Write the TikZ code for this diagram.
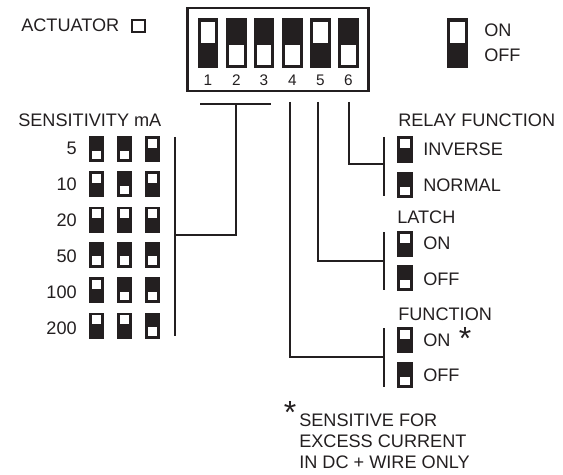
\documentclass[tikz,border=0pt]{standalone}
\usepackage{fontspec}
\setmainfont{Liberation Sans}
\usepackage{xcolor}
\usetikzlibrary{positioning}
\definecolor{ink}{HTML}{231F20}
\tikzset{
  wire/.style={draw=ink,line width=2.1pt},
  lab/.style={anchor=west,inner sep=0pt,text=ink,font=\fontsize{13.6}{16}\selectfont},
  num/.style={anchor=east,inner sep=0pt,text=ink,font=\fontsize{13.6}{16}\selectfont},
  digit/.style={inner sep=0pt,text=ink,font=\fontsize{11.5}{14}\selectfont},
  star/.style={inner sep=0pt,text=ink,font=\fontsize{24}{24}\selectfont},
  bigbody/.style={fill=ink,inner sep=0pt,minimum width=15.4pt,minimum height=37.5pt},
  bigon/.style={bigbody,path picture={\fill[white] ([xshift=-5.3pt,yshift=-3pt]path picture bounding box.north) rectangle ([xshift=5.3pt,yshift=-18.8pt]path picture bounding box.north);}},
  bigoff/.style={bigbody,path picture={\fill[white] ([xshift=-5.3pt,yshift=2pt]path picture bounding box.south) rectangle ([xshift=5.3pt,yshift=17.5pt]path picture bounding box.south);}},
  smallbody/.style={fill=ink,inner sep=0pt,minimum width=11.4pt,minimum height=19.5pt},
  smallon/.style={smallbody,path picture={\fill[white] ([xshift=-3.7pt,yshift=-2.2pt]path picture bounding box.north) rectangle ([xshift=3.7pt,yshift=-8.8pt]path picture bounding box.north);}},
  smalloff/.style={smallbody,path picture={\fill[white] ([xshift=-3.7pt,yshift=2pt]path picture bounding box.south) rectangle ([xshift=3.7pt,yshift=8.6pt]path picture bounding box.south);}}
}
\begin{document}
\begin{tikzpicture}[x=0.75pt,y=-0.75pt]
\useasboundingbox (0,0) rectangle (563,474);
% top row
\node[lab] (actlabel) at (21,25) {ACTUATOR};
\node[draw=ink,line width=1.6pt,inner sep=0pt,minimum width=9.4pt,minimum height=9.4pt] (actbox) at (138.5,26) {};
\node[draw=ink,line width=2.1pt,inner sep=0pt,minimum width=135.75pt,minimum height=62.25pt] (dipbox) at (278,49.5) {};
\node[bigon] (dip1) at (208,43) {};
\node[bigoff] (dip2) at (236.5,43) {};
\node[bigoff] (dip3) at (264,43) {};
\node[bigoff] (dip4) at (292.5,43) {};
\node[bigon] (dip5) at (320.5,43) {};
\node[bigoff] (dip6) at (348.5,43) {};
\node[digit] (num1) at (208,80) {1};
\node[digit] (num2) at (236.5,80) {2};
\node[digit] (num3) at (264,80) {3};
\node[digit] (num4) at (292.5,80) {4};
\node[digit] (num5) at (320.5,80) {5};
\node[digit] (num6) at (348.5,80) {6};
% legend
\node[bigon] (legend) at (457.5,43) {};
\node[lab] (legon) at (484,30) {ON};
\node[lab] (legoff) at (484,55) {OFF};
% sensitivity table
\node[lab] (senslabel) at (18,120) {SENSITIVITY mA};
\node[num] (s5) at (77,148) {5};
\node[num] (s10) at (77,184) {10};
\node[num] (s20) at (77,220) {20};
\node[num] (s50) at (77,256) {50};
\node[num] (s100) at (77,292) {100};
\node[num] (s200) at (77,328) {200};
\node[smalloff] (s5a) at (96.5,149) {};
\node[smalloff] (s5b) at (124.5,149) {};
\node[smallon] (s5c) at (152.5,149) {};
\node[smallon] (s10a) at (96.5,184) {};
\node[smalloff] (s10b) at (124.5,184) {};
\node[smallon] (s10c) at (152.5,184) {};
\node[smallon] (s20a) at (96.5,219.5) {};
\node[smallon] (s20b) at (124.5,219.5) {};
\node[smallon] (s20c) at (152.5,219.5) {};
\node[smalloff] (s50a) at (96.5,254.5) {};
\node[smalloff] (s50b) at (124.5,254.5) {};
\node[smalloff] (s50c) at (152.5,254.5) {};
\node[smallon] (s100a) at (96.5,290) {};
\node[smalloff] (s100b) at (124.5,290) {};
\node[smalloff] (s100c) at (152.5,290) {};
\node[smallon] (s200a) at (96.5,325.5) {};
\node[smallon] (s200b) at (124.5,325.5) {};
\node[smalloff] (s200c) at (152.5,325.5) {};
% right hand groups
\node[lab] (relaylabel) at (398,120) {RELAY FUNCTION};
\node[smallon] (relayinv) at (405,149.5) {};
\node[lab] (relayinvtext) at (423,149) {INVERSE};
\node[smalloff] (relaynor) at (405,185) {};
\node[lab] (relaynortext) at (423,185) {NORMAL};
\node[lab] (latchlabel) at (397,217) {LATCH};
\node[smallon] (latchon) at (405,244) {};
\node[lab] (latchontext) at (423,243) {ON};
\node[smalloff] (latchoff) at (405,278) {};
\node[lab] (latchofftext) at (423,279) {OFF};
\node[lab] (funclabel) at (398,314) {FUNCTION};
\node[smallon] (funcon) at (405,340) {};
\node[lab] (funcontext) at (423,340) {ON};
\node[star,anchor=center] (funcstar) at (465,338) {*};
\node[smalloff] (funcoff) at (405,375) {};
\node[lab] (funcofftext) at (423,375) {OFF};
% footnote
\node[star,anchor=center] (notestar) at (290,412) {*};
\node[lab,align=left,font=\fontsize{13.6}{15.75}\selectfont] (note) at (299,441) {SENSITIVE FOR\\EXCESS CURRENT\\IN DC + WIRE ONLY};
% connectors
\coordinate (brackl) at (200,104);
\coordinate (brackm) at (236,104);
\coordinate (brackr) at (271,104);
\coordinate (sensjoin) at (175,235);
\coordinate (senstop) at (175,137);
\coordinate (sensbot) at (175,336);
\draw[wire] (brackl) -- (brackr);
\draw[wire] (brackm) |- (sensjoin);
\draw[wire] (senstop) -- (sensbot);
\coordinate (stub6) at (349,102);
\coordinate (relayjoin) at (384,164);
\coordinate (relaytop) at (384,137);
\coordinate (relaybot) at (384,196);
\draw[wire] (stub6) |- (relayjoin);
\draw[wire] (relaytop) -- (relaybot);
\coordinate (stub5) at (318,102);
\coordinate (latchjoin) at (384,261);
\coordinate (latchtop) at (384,232);
\coordinate (latchbot) at (384,290);
\draw[wire] (stub5) |- (latchjoin);
\draw[wire] (latchtop) -- (latchbot);
\coordinate (stub4) at (290,102);
\coordinate (funcjoin) at (384,357);
\coordinate (functop) at (384,328);
\coordinate (funcbot) at (384,387);
\draw[wire] (stub4) |- (funcjoin);
\draw[wire] (functop) -- (funcbot);
\end{tikzpicture}
\end{document}
